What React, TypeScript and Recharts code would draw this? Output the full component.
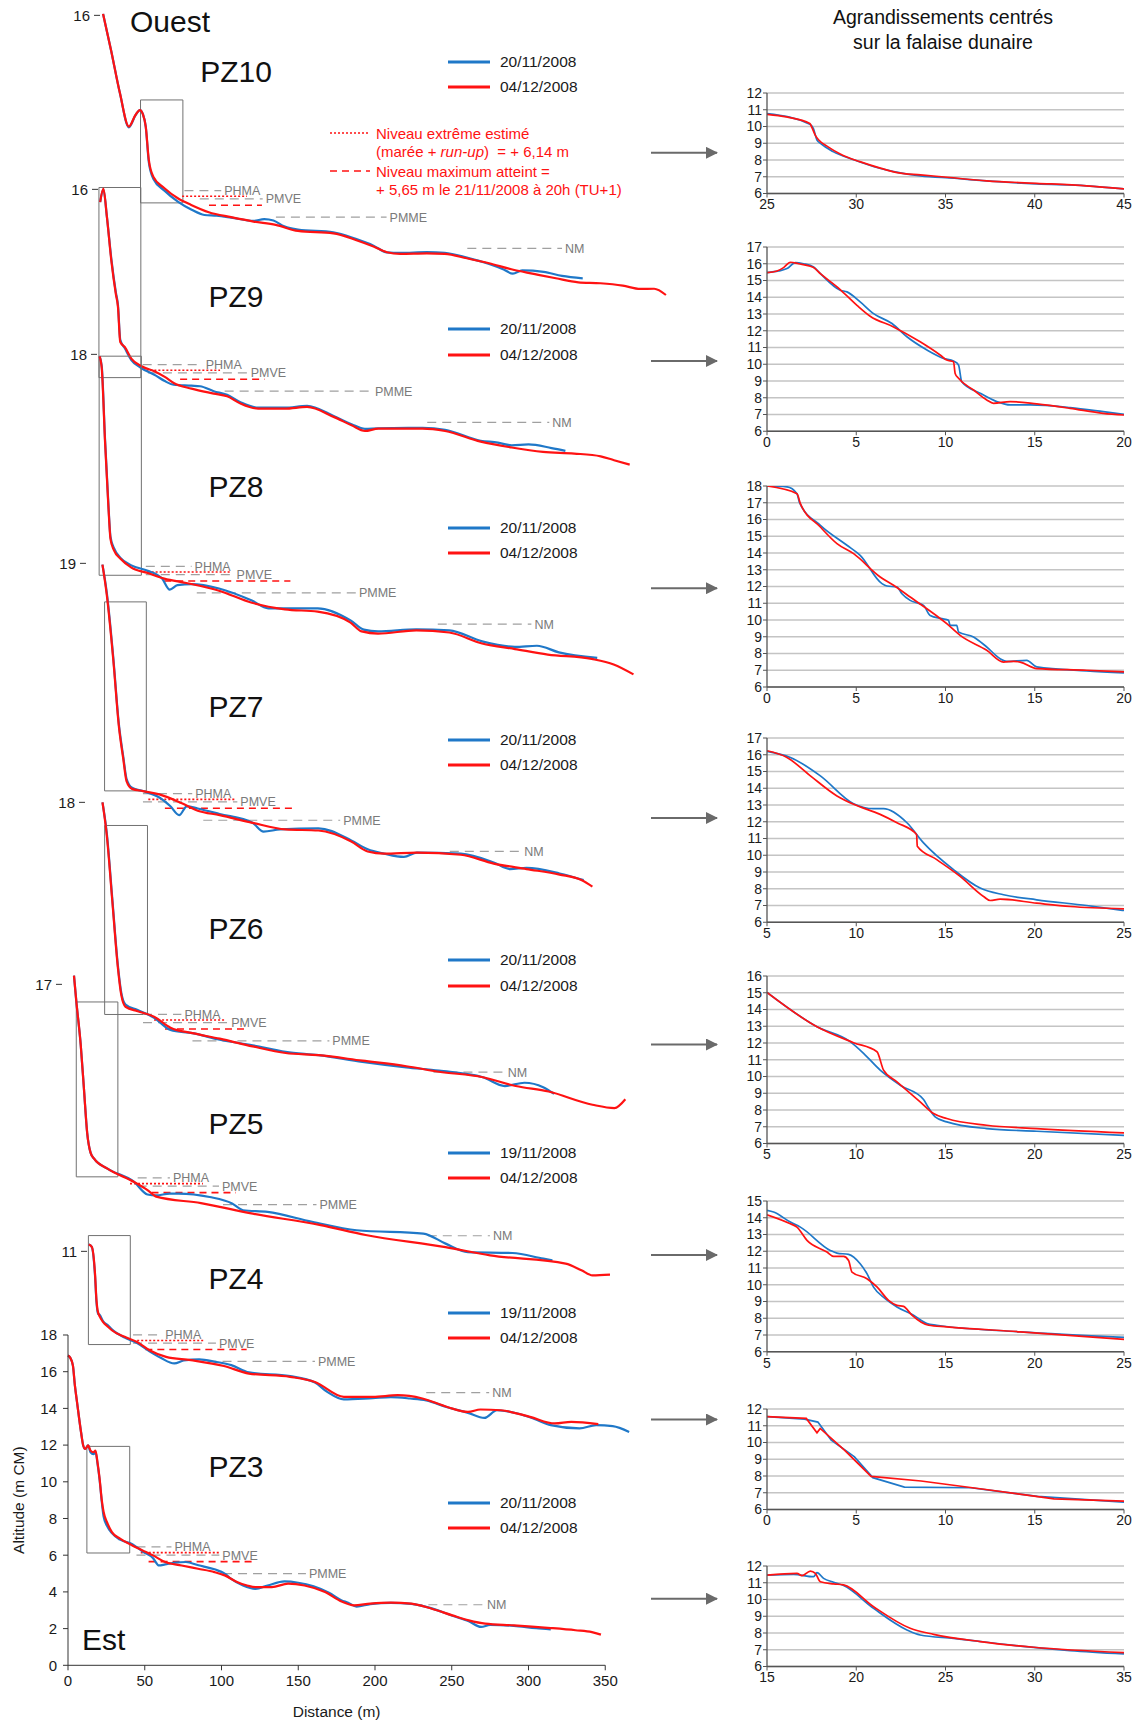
import React from 'react';
import { LineChart, Line, XAxis, YAxis, ReferenceLine, ReferenceArea, CartesianGrid, Legend, Label } from 'recharts';

const BLUE = '#1f78c8';
const RED = '#ff1212';
const LEVEL_GREY = '#a0a0a0';
const FONT = "'Liberation Sans', Arial, Helvetica, sans-serif";

// stacked profiles: pixels per metre, pixel of distance 0
const PX_X = 1.535;
const PX_Y = 18.35;
const X0 = 68.2;

// ---- profiles [distance (m), altitude (m)] ----
const pz10Nov = [[23,16.08],[28.2,14.1],[34,11.75],[39.8,9.9],[44.1,10.55],[47,10.84],[49,10.6],[50.8,9.94],[52.8,8.0],[55.7,7.1],[63,6.45],[71.7,5.85],[80.4,5.42],[89,5.12],[97,5.08],[106.4,4.98],[121,4.8],[128,4.9],[134,4.82],[141,4.5],[150,4.32],[173,4.18],[187.6,3.82],[199.2,3.45],[207.9,3.08],[216.6,3.05],[234,3.1],[245.6,3.06],[260,2.8],[274.5,2.45],[284,2.15],[290,1.92],[296,2.1],[310,2.02],[322,1.8],[335.5,1.67]];
const pz10Dec = [[23,16.08],[28.2,14.1],[34,11.75],[39.8,9.94],[44.1,10.57],[47,10.84],[49,10.6],[50.8,9.94],[52.8,8.12],[55.7,7.21],[63,6.58],[71.7,6.03],[80.4,5.67],[91.9,5.27],[106.4,5.0],[121,4.76],[135.5,4.58],[150,4.25],[173,4.12],[187.6,3.76],[199.2,3.4],[207.9,3.09],[216.6,3.0],[234,3.03],[245.6,3.0],[260,2.76],[274.5,2.49],[289,2.16],[303.6,1.91],[318,1.67],[332.6,1.45],[347,1.4],[361.6,1.27],[373,1.09],[382,1.1],[389.7,0.76]];

const pz9Nov = [[20.9,15.3],[23,16.0],[25.3,14.5],[28.2,12.2],[31.1,10.4],[32.5,9.7],[34,7.8],[36.9,7.35],[41.2,6.7],[47.9,6.25],[57.2,5.85],[63,5.55],[68.8,5.35],[80.4,5.3],[86,5.27],[94.9,5.0],[103.6,4.8],[112.3,4.4],[123.8,4.1],[141.2,4.1],[155.7,4.2],[173,3.65],[184.7,3.2],[193.4,2.95],[202.1,2.98],[231,3.0],[245.6,2.9],[268.8,2.3],[280,2.2],[289,2.05],[300,2.1],[315,1.9],[324,1.75]];
const pz9Dec = [[20.9,15.3],[23,16.04],[25.3,14.5],[28.2,12.1],[31.1,10.3],[32.5,9.6],[34,7.68],[36.9,7.41],[41.2,6.78],[47.9,6.36],[57.2,6.05],[63,5.78],[68.8,5.45],[80.4,5.14],[94.9,4.87],[103.6,4.72],[112.3,4.33],[123.8,4.05],[141.2,4.05],[155.7,4.14],[173,3.6],[184.7,3.14],[193.4,2.83],[202.1,2.96],[231,2.96],[245.6,2.83],[268.8,2.25],[289,1.93],[309.4,1.69],[329.7,1.6],[347,1.45],[355.7,1.24],[365.9,1.0]];

const pz8Nov = [[20.7,17.89],[22.1,17.35],[24.2,13.42],[26.4,9.85],[27.8,8.05],[30,7.45],[34.3,6.91],[41.4,6.5],[52.1,6.2],[61.4,5.78],[66.4,5.18],[71.4,5.42],[80.7,5.48],[98.5,5.24],[119.9,4.58],[130.6,4.16],[141.4,4.16],[162.8,4.16],[184.2,3.5],[192.8,3.0],[202.1,2.9],[227,3.02],[248.5,2.96],[269.9,2.36],[291.3,2.06],[305.6,2.12],[319.9,1.76],[344.9,1.46]];
const pz8Dec = [[20.7,17.89],[22.1,17.23],[24.2,13.3],[26.4,9.74],[27.8,7.93],[30,7.33],[34.3,6.86],[41.4,6.38],[52.1,6.08],[62.8,5.78],[77.1,5.54],[98.5,5.12],[119.9,4.46],[141.4,4.1],[162.8,3.98],[184.2,3.38],[191.4,2.9],[202.1,2.78],[227,2.96],[248.5,2.84],[269.9,2.24],[291.3,1.94],[312.7,1.64],[341.3,1.4],[355.6,1.1],[368.5,0.56]];

const pz7Nov = [[22.1,18.93],[24.9,17.43],[29.2,13.84],[32.8,10.25],[35.7,8.45],[37.8,7.26],[41.4,6.77],[48.5,6.59],[59.2,6.24],[66.4,5.76],[72.1,5.28],[77.1,5.76],[84.2,5.64],[98.5,5.34],[119.9,4.86],[127.1,4.38],[137.8,4.5],[162.8,4.56],[184.2,3.9],[194.9,3.42],[205.6,3.18],[218.5,3.0],[227,3.24],[255.6,3.18],[277,2.7],[287.7,2.34],[298.4,2.4],[319.9,2.1],[335.6,1.74]];
const pz7Dec = [[22.1,18.93],[24.9,17.31],[29.2,13.72],[32.8,10.13],[35.7,8.33],[37.8,7.13],[41.4,6.71],[48.5,6.59],[59.2,6.41],[73.5,5.94],[84.2,5.52],[98.5,5.28],[119.9,4.86],[141.4,4.5],[162.8,4.44],[184.2,3.84],[194.9,3.3],[205.6,3.18],[227,3.24],[255.6,3.12],[277,2.64],[298.4,2.34],[319.9,2.04],[334.1,1.74],[341.3,1.38]];

const pz6Nov = [[22.1,18.0],[24.9,16.32],[28.5,12.73],[32.1,9.13],[34.3,7.64],[37.1,6.98],[45,6.68],[55.7,6.26],[66.4,5.6],[80.7,5.42],[98.5,5.06],[119.9,4.76],[141.4,4.4],[162.8,4.22],[191.4,3.86],[220,3.56],[241.3,3.38],[269.9,3.02],[284.2,2.54],[297,2.72],[309.2,2.48],[316.3,2.12]];
const pz6Dec = [[22.1,18.0],[24.9,16.2],[28.5,12.61],[32.1,9.01],[34.3,7.52],[37.1,6.86],[45,6.62],[55.7,6.32],[66.4,5.72],[80.7,5.42],[98.5,5.12],[119.9,4.7],[141.4,4.34],[162.8,4.22],[191.4,3.92],[220,3.62],[241.3,3.32],[269.9,3.02],[291.3,2.54],[312.7,2.24],[341.3,1.52],[355.6,1.34],[362.7,1.82]];

const pz5Nov = [[3.5,17.48],[5,16.1],[7.9,13.7],[10,11.3],[12.1,8.91],[14.3,7.83],[16.6,7.5],[25.3,6.96],[42.7,6.23],[51.4,5.55],[57,5.5],[65.9,5.6],[71.6,5.6],[91.9,5.41],[106.5,5.06],[113.7,4.69],[129.6,4.6],[158.6,4.06],[187.6,3.6],[231.1,3.42],[245.6,2.87],[260.1,2.41],[289.1,2.36],[309.3,2.05],[315.2,1.96]];
const pz5Dec = [[3.5,17.48],[5,16.1],[7.9,13.7],[10,11.3],[12.1,8.91],[14.3,7.83],[16.6,7.5],[25.3,6.96],[42.7,6.23],[51.4,5.79],[57.1,5.43],[86.2,5.08],[118.1,4.53],[164.2,3.88],[193.5,3.34],[245.6,2.68],[274.6,2.23],[323.8,1.78],[334.1,1.42],[341.3,1.14],[352.7,1.18]];

const pz4Nov = [[13.1,11.37],[15.1,11.25],[17.2,9.7],[18.2,8.2],[19.2,7.6],[20.2,7.55],[22.4,7.2],[25.8,6.95],[28.2,6.75],[36.5,6.3],[44.6,6.0],[52.7,5.55],[60,5.2],[68.9,4.89],[75,5.05],[85.1,5.11],[95.8,4.98],[106,4.8],[117.5,4.4],[144.3,4.2],[160.5,3.85],[168.5,3.34],[179.3,2.93],[198.2,3.0],[210,3.05],[222.4,2.98],[233,2.88],[246.7,2.5],[260.2,2.2],[270.9,1.92],[279.1,2.34],[292.5,2.16],[304,1.85],[314.1,1.53],[332.9,1.35],[343.7,1.53],[354.5,1.47],[365.2,1.16]];
const pz4Dec = [[13.1,11.37],[15.1,11.25],[17.2,9.8],[18.2,8.3],[18.9,7.79],[20.4,7.43],[22.4,7.16],[25.8,6.88],[28.2,6.7],[36.5,6.34],[44.6,6.06],[52.7,5.61],[63.5,5.25],[79.7,5.07],[101.2,4.75],[117.5,4.34],[144.3,4.16],[160.5,3.88],[179.3,3.07],[198.2,3.07],[214.4,3.16],[230.5,2.98],[246.7,2.52],[260.2,2.25],[268.3,2.38],[281.7,2.34],[300.6,1.98],[316.8,1.62],[327.5,1.71],[345.1,1.58]];

const pz3Nov = [[0,16.88],[1.3,16.78],[3.2,16.33],[4.5,15.24],[5.9,14.33],[8.5,12.7],[9.9,11.98],[11.2,11.79],[13.1,11.98],[14.7,11.6],[16.6,11.5],[17.9,11.65],[19.2,11.0],[20.6,10.1],[21.9,9.0],[23.2,8.1],[25.4,7.6],[28.6,7.2],[33.9,6.85],[41.9,6.6],[48.6,6.2],[55.3,5.85],[59.3,5.44],[63.3,5.5],[70,5.6],[76.8,5.63],[85,5.45],[95.4,5.23],[102.1,5.0],[106.1,4.72],[114,4.35],[122.1,4.17],[130,4.35],[141,4.57],[150,4.5],[160,4.3],[170,3.95],[178,3.55],[182.5,3.41],[188,3.2],[196.9,3.33],[210.3,3.4],[223.6,3.35],[237,3.1],[250.4,2.7],[261.1,2.4],[269.1,2.09],[275,2.2],[290.5,2.15],[305,2.02],[314.5,1.96]];
const pz3Dec = [[0,16.88],[1.3,16.78],[3.2,16.33],[4.5,15.24],[5.9,14.33],[8.5,12.7],[9.9,11.98],[11.2,11.79],[13.1,11.98],[14.7,11.7],[16.6,11.61],[17.9,11.7],[19.2,11.07],[20.6,10.16],[21.9,9.07],[23.2,8.35],[25.4,7.8],[28.6,7.26],[33.9,6.9],[41.9,6.53],[48.6,6.26],[55.3,5.99],[63.3,5.63],[74,5.44],[84.7,5.26],[95.4,5.08],[102.1,4.9],[110.1,4.54],[116.7,4.35],[122.1,4.26],[132.8,4.26],[143.4,4.45],[154.1,4.35],[167.5,3.99],[178.2,3.48],[186.2,3.27],[196.9,3.36],[210.3,3.41],[223.6,3.36],[237,3.08],[250.4,2.72],[261.1,2.45],[271.8,2.27],[290.5,2.18],[314.5,2.03],[330.6,1.91],[341.3,1.81],[347.2,1.67]];

const profileNames = ['PZ10', 'PZ9', 'PZ8', 'PZ7', 'PZ6', 'PZ5', 'PZ4', 'PZ3'];
const profileNov = [pz10Nov, pz9Nov, pz8Nov, pz7Nov, pz6Nov, pz5Nov, pz4Nov, pz3Nov];
const profileDec = [pz10Dec, pz9Dec, pz8Dec, pz7Dec, pz6Dec, pz5Dec, pz4Dec, pz3Dec];
const firstDates = ['20/11/2008', '20/11/2008', '20/11/2008', '20/11/2008', '20/11/2008', '19/11/2008', '19/11/2008', '20/11/2008'];
const secondDate = '04/12/2008';
const topTicks = [16, 16, 18, 19, 18, 17, 11];
const distTicks = [0, 50, 100, 150, 200, 250, 300, 350];
const altTicks = [0, 2, 4, 6, 8, 10, 12, 14, 16, 18];

// tide levels (m CM)
const phmaAlt = 6.45;
const pmveAlt = 6.0;
const pmmeAlt = 5.0;
const nmAlt = 3.3;
const extremeAlt = 6.14;
const maxReachedAlt = 5.65;
const phmaSpan = [[76, 100], [48.6, 87.7], [50.8, 80.6], [48.5, 80.6], [48.5, 73.5], [45, 66], [42, 61], [44.6, 67.4]];
const pmveSpan = [[86, 127], [52, 117], [50.8, 108], [48.5, 110], [48.5, 104], [45, 98], [42, 96], [44.6, 98.6]];
const pmmeSpan = [[135.6, 207.7], [102, 198], [84, 187.7], [87.8, 177], [80.7, 169.9], [100.6, 161.5], [90.5, 160.5], [101, 155]];
const nmSpan = [[260.3, 322], [234, 313.5], [241, 302], [248.4, 295], [237.7, 284.2], [234, 274.5], [233, 274], [225, 271]];
const extremeSpan = [[74.5, 116.7], [51, 99], [52, 105.6], [52, 109], [55.7, 102], [40, 87.5], [44.7, 89], [47.4, 98.6]];
const maxReachedSpan = [[92, 126.5], [73, 128], [62.8, 145], [62.8, 148.5], [62.8, 116.4], [54, 109], [50, 116], [52.5, 120]];
// zoom windows [x1, x2, y1, y2]
const zoomBoxes = [[47.4, 75, 5.78, 11.39], [20.1, 47.4, 5.74, 16.1], [20.4, 47.9, 5.96, 17.9], [23.5, 50.7, 6.6, 16.9], [23.5, 51.4, 6.44, 16.74], [5, 32.1, 6.51, 16.04], [12.9, 40.2, 5.92, 11.86], [12.3, 40.2, 6.12, 11.93]];

// layout of the stacked profiles (pixel of altitude 0, first distance, top of axis)
const profileBase = [309, 482.7, 684.3, 911.6, 1132.9, 1296, 1453, 1665.7];
const profileStart = [21, 19.5, 19, 11.4, 10.7, -4.3, 12, 0];
const profileTop = [17, 17, 19, 20, 19, 18, 12, 18];
const titleY = [72, 297, 487, 707, 929, 1124, 1279, 1467];
const legendY = [61.7, 329, 528, 740, 960, 1153, 1313, 1503];

// ---- zoomed panels ----
const zoom1Nov = [[25,10.77],[27.4,10.14],[27.6,9.88],[27.8,9.19],[28,8.99],[28.7,8.5],[29.9,8.0],[31,7.6],[32.1,7.31],[33.6,7.05],[35.5,6.91],[37.3,6.75],[40.1,6.57],[42.9,6.46],[45,6.28]];
const zoom1Dec = [[25,10.73],[26.1,10.57],[27.4,10.18],[27.5,9.98],[27.7,9.49],[27.9,9.19],[28.4,8.8],[29.1,8.36],[30.2,7.9],[31.4,7.5],[32.3,7.25],[33.6,7.11],[35.1,6.97],[37.3,6.75],[40.1,6.61],[42.9,6.46],[45,6.28]];
const zoom2Nov = [[0,15.47],[0.65,15.57],[1.12,15.71],[1.59,16.07],[2.05,16.0],[2.61,15.81],[2.99,15.41],[4.1,14.42],[4.48,14.32],[5.22,13.72],[5.97,13.02],[7.0,12.43],[7.84,11.64],[8.96,10.85],[9.89,10.35],[10.45,10.19],[10.73,9.96],[10.91,8.96],[11.94,8.27],[12.87,7.77],[13.62,7.57],[14.74,7.57],[16.98,7.41],[18.84,7.17],[20,7.01]];
const zoom2Dec = [[0,15.47],[0.56,15.57],[0.93,15.77],[1.31,16.09],[1.77,16.0],[2.43,15.85],[2.61,15.77],[2.99,15.41],[4.1,14.46],[5.04,13.52],[5.78,12.87],[7.09,12.23],[8.58,11.34],[9.7,10.55],[10.07,10.25],[10.45,10.15],[10.54,9.45],[10.73,9.16],[11.57,8.46],[12.31,7.87],[12.69,7.67],[13.62,7.77],[15.11,7.63],[16.98,7.37],[18.84,7.07],[20,6.97]];
const zoom3Nov = [[0,18.0],[1.12,17.95],[1.68,17.54],[1.83,16.99],[2.99,15.65],[4.48,14.46],[5.22,13.86],[6.44,12.17],[6.72,12.03],[7.28,11.97],[7.56,11.57],[8.02,11.17],[8.77,10.87],[9.14,10.27],[9.8,10.08],[10.17,9.98],[10.26,9.68],[10.63,9.68],[10.73,9.28],[11.57,8.99],[12.31,8.39],[13.06,7.69],[13.43,7.53],[14.55,7.59],[15.11,7.2],[17.91,6.96],[20,6.84]];
const zoom3Dec = [[0,18.0],[1.68,17.54],[1.87,16.95],[2.99,15.55],[3.92,14.56],[4.85,13.96],[6.34,12.57],[7.09,12.07],[8.02,11.37],[10.07,9.78],[10.82,9.08],[12.31,8.19],[13.25,7.49],[13.81,7.53],[14.18,7.49],[15.11,7.1],[17.91,7.0],[20,6.9]];
const zoom4Nov = [[5,16.2],[6.31,15.84],[7.99,14.74],[9.85,13.08],[10.97,12.78],[11.53,12.78],[12.84,11.94],[13.77,10.74],[15.45,9.14],[16.94,8.04],[18.25,7.64],[20.11,7.34],[22.91,7.0],[25,6.7]];
const zoom4Dec = [[5,16.24],[6.12,15.84],[7.43,14.74],[8.92,13.54],[9.85,13.04],[11.34,12.44],[12.28,11.94],[13.38,11.24],[13.42,10.54],[14.51,9.74],[15.82,8.74],[17.13,7.54],[17.5,7.3],[18.06,7.38],[20.11,7.14],[21.98,6.94],[25,6.8]];
const zoom5Nov = [[5,15.02],[7.8,12.97],[9.66,12.08],[10.41,11.38],[11.34,10.38],[12.46,9.48],[13.77,8.63],[13.96,8.29],[14.42,7.59],[15.07,7.29],[17.31,6.89],[20.11,6.73],[25,6.49]];
const zoom5Dec = [[5,15.02],[7.8,12.97],[9.85,12.02],[11.16,11.48],[11.53,10.38],[12.28,9.68],[13.58,8.49],[14.33,7.79],[15.07,7.49],[17.31,7.09],[20.11,6.89],[25,6.63]];
const zoom6Nov = [[5,14.44],[5.37,14.34],[6.31,13.74],[6.87,13.44],[8.55,12.05],[8.92,11.89],[9.57,11.81],[10.22,11.25],[10.6,10.66],[10.97,9.86],[11.62,9.17],[12.28,8.67],[13.21,8.18],[13.96,7.68],[14.51,7.58],[19.18,7.19],[25,6.86]];
const zoom6Dec = [[5,14.18],[6.31,13.64],[6.68,13.44],[7.24,12.65],[8.36,11.95],[8.73,11.69],[9.29,11.69],[9.57,11.45],[9.76,10.76],[10.6,10.36],[11.16,9.87],[11.81,9.07],[12.28,8.77],[12.65,8.71],[13.12,8.18],[14.05,7.58],[15.07,7.49],[19.18,7.19],[25,6.74]];
const zoom7Nov = [[0,11.54],[2.1,11.4],[2.85,11.22],[3.6,10.14],[4.9,9.14],[5.93,7.9],[7.7,7.34],[11.42,7.3],[13.29,7.04],[15.15,6.78],[20,6.44]];
const zoom7Dec = [[0,11.54],[2.2,11.44],[2.8,10.58],[2.98,10.84],[4.34,9.54],[5.83,7.98],[8.63,7.7],[12.36,7.18],[16.08,6.64],[20,6.5]];
const zoom8Nov = [[15,11.46],[16.49,11.5],[17.61,11.36],[17.8,11.6],[18.17,11.26],[18.73,11.03],[19.29,10.83],[20.97,9.47],[22.84,8.18],[23.58,7.88],[25.45,7.68],[29.18,7.22],[31.98,6.95],[35,6.75]];
const zoom8Dec = [[15,11.46],[16.68,11.56],[16.96,11.42],[17.43,11.7],[17.71,11.56],[17.99,11.06],[18.73,10.93],[19.29,10.87],[20.97,9.57],[23.02,8.28],[24.33,7.92],[26.94,7.49],[29.93,7.15],[35,6.83]];

const zoomNov = [zoom1Nov, zoom2Nov, zoom3Nov, zoom4Nov, zoom5Nov, zoom6Nov, zoom7Nov, zoom8Nov];
const zoomDec = [zoom1Dec, zoom2Dec, zoom3Dec, zoom4Dec, zoom5Dec, zoom6Dec, zoom7Dec, zoom8Dec];
const zoomXRange = [[25, 45], [0, 20], [0, 20], [5, 25], [5, 25], [5, 25], [0, 20], [15, 35]];
const zoomYRange = [[6, 12], [6, 17], [6, 18], [6, 17], [6, 16], [6, 15], [6, 12], [6, 12]];
const zoomBottom = [193.7, 431.3, 686.7, 922.3, 1143.3, 1351.7, 1509, 1666.7];
const arrowY = [152.8, 361, 588.2, 818, 1044.5, 1255, 1419.5, 1598.7];
const ZOOM_X0 = 766.7;
const ZOOM_W = 357;
const ZOOM_PX_Y = 16.75;

const toPts = (arr: number[][]) => arr.map(([x, y]) => ({ x, y }));
const range = (a: number, b: number, step: number) => {
  const out: number[] = [];
  for (let v = a; v <= b + 1e-9; v += step) out.push(v);
  return out;
};

const legendContent = (props: any) => {
  const items = [...(props.payload || [])].sort((a: any, b: any) => (a.value === secondDate ? 1 : 0) - (b.value === secondDate ? 1 : 0));
  return (
    <div>
      {items.map((it: any) => (
        <div key={it.value} style={{ display: 'flex', alignItems: 'center', height: 25.5 }}>
          <svg width={42} height={8}><line x1={0} y1={4} x2={42} y2={4} stroke={it.color} strokeWidth={2.8} /></svg>
          <span style={{ marginLeft: 10, fontSize: 15.5, color: '#1a1a1a', fontFamily: FONT }}>{it.value}</span>
        </div>
      ))}
    </div>
  );
};

function levelLine(key: string, span: number[], alt: number, stroke: string, dash: string, label?: string) {
  return (
    <ReferenceLine
      key={key}
      segment={[{ x: span[0], y: alt }, { x: span[1], y: alt }]}
      stroke={stroke}
      strokeWidth={stroke === LEVEL_GREY ? 1.2 : 1.6}
      strokeDasharray={dash}
      ifOverflow="visible"
      label={label ? { value: label, position: 'right', offset: 3, fill: '#7a7a7a', fontSize: 12.5 } : undefined}
    />
  );
}

function Profile({ i }: { i: number }) {
  const bottom = i === 7;
  const d0 = profileStart[i];
  const d1 = bottom ? 350 : 400;
  const yMax = profileTop[i];
  const m = { top: 12, right: bottom ? 24 : 4, bottom: 0, left: 0 };
  const yW = 60;
  const xH = bottom ? 54 : 0;
  const plotW = (d1 - d0) * PX_X;
  const plotH = yMax * PX_Y;
  const left = X0 + d0 * PX_X - yW;
  const top = profileBase[i] - plotH - m.top;
  const box = zoomBoxes[i];
  const tickStyle = { fill: '#1a1a1a', fontSize: 15 };
  return (
    <div style={{ position: 'absolute', left, top }}>
      <LineChart width={yW + plotW + m.right} height={m.top + plotH + xH + m.bottom} margin={m}>
        <XAxis
          type="number"
          dataKey="x"
          domain={[d0, d1]}
          hide={!bottom}
          ticks={distTicks}
          interval={0}
          height={xH}
          stroke="#333"
          tickSize={5}
          tickMargin={5}
          tick={tickStyle}
        >
          {bottom && <Label value="Distance (m)" position="insideBottom" offset={2} fill="#1a1a1a" fontSize={15.5} />}
        </XAxis>
        <YAxis
          type="number"
          domain={[0, yMax]}
          width={yW}
          ticks={bottom ? altTicks : [topTicks[i]]}
          interval={0}
          axisLine={bottom}
          stroke="#333"
          tickSize={bottom ? 5 : 6}
          tickMargin={bottom ? 6 : 4}
          tick={tickStyle}
        >
          {bottom && (
            <Label
              content={(p: any) => {
                const vb = p.viewBox || {};
                const cx = vb.x + 12;
                const cy = vb.y + vb.height / 2;
                return (
                  <text x={cx} y={cy} transform={`rotate(-90, ${cx}, ${cy})`} textAnchor="middle" dominantBaseline="middle" fill="#1a1a1a" fontSize={15.5}>
                    Altitude (m CM)
                  </text>
                );
              }}
            />
          )}
        </YAxis>
        <ReferenceArea x1={box[0]} x2={box[1]} y1={box[2]} y2={box[3]} fill="none" fillOpacity={0} stroke="#707070" strokeWidth={1} ifOverflow="visible" />
        {levelLine('phma', phmaSpan[i], phmaAlt, LEVEL_GREY, '9 6', 'PHMA')}
        {levelLine('pmve', pmveSpan[i], pmveAlt, LEVEL_GREY, '9 6', 'PMVE')}
        {levelLine('pmme', pmmeSpan[i], pmmeAlt, LEVEL_GREY, '9 6', 'PMME')}
        {levelLine('nm', nmSpan[i], nmAlt, LEVEL_GREY, '9 6', 'NM')}
        {levelLine('ext', extremeSpan[i], extremeAlt, RED, '2 2')}
        {levelLine('max', maxReachedSpan[i], maxReachedAlt, RED, '7 5')}
        <Line data={toPts(profileNov[i])} dataKey="y" name={firstDates[i]} type="monotone" stroke={BLUE} strokeWidth={2.2} dot={false} activeDot={false} isAnimationActive={false} />
        <Line data={toPts(profileDec[i])} dataKey="y" name={secondDate} type="monotone" stroke={RED} strokeWidth={2.2} dot={false} activeDot={false} isAnimationActive={false} />
        <Legend
          content={legendContent}
          layout="vertical"
          align="center"
          verticalAlign="middle"
          wrapperStyle={{ left: 448 - left, top: legendY[i] - 12.75 - top, width: 'auto', height: 'auto' }}
        />
      </LineChart>
    </div>
  );
}

function Zoom({ i }: { i: number }) {
  const [xa, xb] = zoomXRange[i];
  const [ya, yb] = zoomYRange[i];
  const plotH = (yb - ya) * ZOOM_PX_Y;
  const yW = 34;
  const mTop = 8;
  const mRight = 14;
  const xH = 26;
  const top = zoomBottom[i] - plotH - mTop;
  const tick = { fill: '#1a1a1a', fontSize: 14 };
  const lineType = i === 6 ? 'linear' : 'monotone';
  return (
    <div style={{ position: 'absolute', left: ZOOM_X0 - yW, top }}>
      <LineChart width={yW + ZOOM_W + mRight} height={mTop + plotH + xH} margin={{ top: mTop, right: mRight, bottom: 0, left: 0 }}>
        <CartesianGrid vertical={false} stroke="#c4c4c4" strokeWidth={1.3} />
        <XAxis type="number" dataKey="x" domain={[xa, xb]} ticks={range(xa, xb, 5)} interval={0} allowDataOverflow height={xH}
          tickSize={4} tickMargin={2} stroke="#555" axisLine={{ stroke: '#555', strokeWidth: 1.3 }} tick={tick} />
        <YAxis type="number" domain={[ya, yb]} ticks={range(ya, yb, 1)} interval={0} allowDataOverflow width={yW}
          tickSize={4} tickMargin={1} stroke="#555" axisLine={{ stroke: '#555', strokeWidth: 1.3 }} tick={tick} />
        <Line data={toPts(zoomNov[i])} dataKey="y" type={lineType} stroke={BLUE} strokeWidth={1.7} dot={false} activeDot={false} isAnimationActive={false} />
        <Line data={toPts(zoomDec[i])} dataKey="y" type={lineType} stroke={RED} strokeWidth={1.7} dot={false} activeDot={false} isAnimationActive={false} />
      </LineChart>
    </div>
  );
}

const txt = (x: number, y: number, extra: React.CSSProperties = {}): React.CSSProperties => ({
  position: 'absolute', left: x, top: y, transform: 'translateY(-50%)', whiteSpace: 'pre', lineHeight: 1, ...extra,
});

export default function App() {
  return (
    <div style={{ position: 'absolute', left: 0, top: 0, width: 1138, height: 1724, overflow: 'hidden', background: '#fff', fontFamily: FONT }}>
      <svg width={1138} height={1724} style={{ position: 'absolute', left: 0, top: 0 }}>
        <defs>
          <marker id="arrowHead" markerWidth="12" markerHeight="12" refX="11" refY="6" orient="auto" markerUnits="userSpaceOnUse">
            <path d="M0,0 L12,6 L0,12 z" fill="#6a6a6a" />
          </marker>
        </defs>
        {arrowY.map((y) => (
          <line key={y} x1={651} x2={717} y1={y} y2={y} stroke="#6a6a6a" strokeWidth={2} markerEnd="url(#arrowHead)" />
        ))}
      </svg>

      {profileNames.map((_, i) => <Profile key={i} i={i} />)}
      {zoomXRange.map((_, i) => <Zoom key={i} i={i} />)}

      {profileNames.map((n, i) => (
        <div key={n} style={{ position: 'absolute', left: 236, top: titleY[i], transform: 'translate(-50%, -50%)', fontSize: 30, lineHeight: 1, color: '#111' }}>{n}</div>
      ))}
      <div style={txt(130, 22, { fontSize: 30, color: '#111' })}>Ouest</div>
      <div style={txt(82, 1640, { fontSize: 30, color: '#111' })}>Est</div>

      <div style={{ position: 'absolute', left: 943, top: 18, transform: 'translate(-50%, -50%)', fontSize: 19.5, whiteSpace: 'nowrap', color: '#111', lineHeight: 1 }}>Agrandissements centrés</div>
      <div style={{ position: 'absolute', left: 943, top: 43, transform: 'translate(-50%, -50%)', fontSize: 19.5, whiteSpace: 'nowrap', color: '#111', lineHeight: 1 }}>sur la falaise dunaire</div>

      <svg width={42} height={8} style={{ position: 'absolute', left: 330, top: 128.7 }}>
        <line x1={0} y1={4} x2={40} y2={4} stroke={RED} strokeWidth={1.5} strokeDasharray="2 2" />
      </svg>
      <svg width={42} height={8} style={{ position: 'absolute', left: 330, top: 166.5 }}>
        <line x1={0} y1={4} x2={40} y2={4} stroke={RED} strokeWidth={1.6} strokeDasharray="7 5" />
      </svg>
      <div style={txt(376, 132.7, { fontSize: 15, color: RED })}>Niveau extrême estimé</div>
      <div style={txt(376, 151, { fontSize: 15, color: RED })}>(marée + <i>run-up</i>)  = + 6,14 m</div>
      <div style={txt(376, 170.5, { fontSize: 15, color: RED })}>Niveau maximum atteint =</div>
      <div style={txt(376, 189, { fontSize: 15, color: RED })}>+ 5,65 m le 21/11/2008 à 20h (TU+1)</div>
    </div>
  );
}
